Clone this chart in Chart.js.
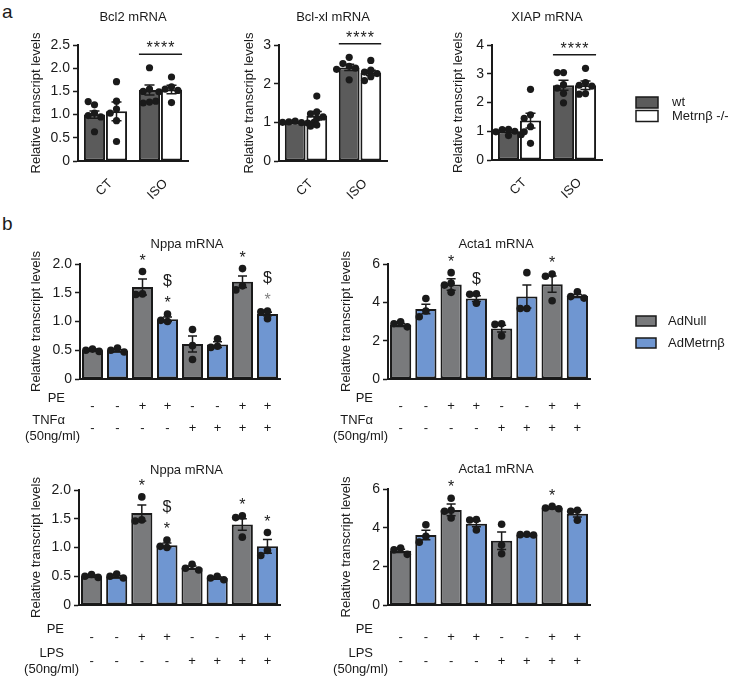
<!DOCTYPE html>
<html lang="en">
<head>
<meta charset="utf-8">
<title>Metrnβ transcript levels</title>
<script src="https://cdn.jsdelivr.net/npm/chart.js@4.4.1/dist/chart.umd.min.js"></script>
<style>
    html, body { margin: 0; padding: 0; background: #fff; }
    body { position: relative; width: 730px; height: 677px; overflow: hidden; font-family: 'Liberation Sans', Arial, sans-serif; color: #1a1a1a; }
    .panel-tag { position: absolute; font-size: 19px; line-height: 19px; }
    .frame { position: absolute; }
    .frame canvas { display: block; }
</style>
</head>
<body>
<div class="panel-tag" style="left:2px; top:2px">a</div>
<div class="panel-tag" style="left:2px; top:214px">b</div>
<script>
// --- Panel a: wt vs Metrnβ -/-, CT vs ISO ---
const groupsA = ['CT', 'ISO'];
const seriesA = ['wt', 'Metrnβ -/-'];

const bcl2Ticks = ['0', '0.5', '1.0', '1.5', '2.0', '2.5'];
const bcl2WtMean = [1.00, 1.53];
const bcl2KoMean = [1.07, 1.54];
const bcl2WtSem = [0.08, 0.11];
const bcl2KoSem = [0.20, 0.09];
const bcl2WtDots = [[1.21, 1.28, 1.03, 0.98, 0.95, 0.63], [2.01, 1.55, 1.50, 1.27, 1.25, 1.29]];
const bcl2KoDots = [[1.71, 1.29, 1.12, 1.03, 0.87, 0.42], [1.81, 1.60, 1.55, 1.52, 1.49, 1.26]];

const bclxlTicks = ['0', '1', '2', '3'];
const bclxlWtMean = [1.00, 2.42];
const bclxlKoMean = [1.17, 2.28];
const bclxlWtSem = [0.01, 0.08];
const bclxlKoSem = [0.11, 0.07];
const bclxlWtDots = [[1.03, 1.01, 0.99, 1.00, 0.98, 1.00], [2.68, 2.52, 2.45, 2.40, 2.37, 2.10]];
const bclxlKoDots = [[1.68, 1.27, 1.22, 1.14, 1.10, 0.93, 0.90], [2.60, 2.35, 2.30, 2.26, 2.18, 2.08]];

const xiapTicks = ['0', '1', '2', '3', '4'];
const xiapWtMean = [1.00, 2.60];
const xiapKoMean = [1.37, 2.60];
const xiapWtSem = [0.04, 0.17];
const xiapKoSem = [0.26, 0.15];
const xiapWtDots = [[1.07, 1.06, 1.00, 0.98, 0.88, 0.85], [3.04, 3.04, 2.62, 2.50, 2.32, 1.99]];
const xiapKoDots = [[2.46, 1.57, 1.45, 1.16, 0.98, 0.58], [3.19, 2.69, 2.60, 2.57, 2.31, 2.29]];

// --- Panel b: cardiomyocytes, AdNull vs AdMetrnβ ---
const virusB = ['AdNull', 'AdMetrnβ'];
const virusRow = [0, 1, 0, 1, 0, 1, 0, 1];
const peRow = ['-', '-', '+', '+', '-', '-', '+', '+'];
const tnfRow = ['-', '-', '-', '-', '+', '+', '+', '+'];
const lpsRow = ['-', '-', '-', '-', '+', '+', '+', '+'];
const nppaTicks = ['0', '0.5', '1.0', '1.5', '2.0'];
const actaTicks = ['0', '2', '4', '6'];

const nppaTnfMean = [0.50, 0.49, 1.60, 1.04, 0.61, 0.60, 1.69, 1.13];
const nppaTnfSem = [0.02, 0.02, 0.14, 0.04, 0.14, 0.05, 0.10, 0.03];
const nppaTnfDots = [[0.52, 0.50, 0.48], [0.54, 0.50, 0.47], [1.87, 1.48, 1.47], [1.13, 1.02, 1.00],
    [0.86, 0.58, 0.34], [0.70, 0.57, 0.55], [1.92, 1.62, 1.55], [1.18, 1.17, 1.05]];
const nppaTnfMarks = [[], [], ['*'], ['$', '*'], [], [], ['*'], ['$', '*']];

const actaTnfMean = [2.82, 3.65, 4.93, 4.20, 2.63, 4.30, 4.95, 4.33];
const actaTnfSem = [0.08, 0.25, 0.30, 0.15, 0.18, 0.60, 0.42, 0.08];
const actaTnfDots = [[2.98, 2.88, 2.72], [4.20, 3.55, 3.25], [5.55, 5.00, 4.90, 4.52], [4.45, 4.42, 3.95],
    [2.88, 2.85, 2.25], [5.55, 3.68, 3.68], [5.48, 5.36, 4.08], [4.55, 4.30, 4.22]];
const actaTnfMarks = [[], [], ['*'], ['$'], [], [], ['*'], []];

const nppaLpsMean = [0.50, 0.49, 1.60, 1.04, 0.65, 0.47, 1.40, 1.02];
const nppaLpsSem = [0.02, 0.02, 0.14, 0.04, 0.03, 0.02, 0.10, 0.12];
const nppaLpsDots = [[0.53, 0.50, 0.48], [0.54, 0.50, 0.47], [1.88, 1.48, 1.46], [1.13, 1.02, 1.00],
    [0.71, 0.64, 0.61], [0.50, 0.47, 0.44], [1.55, 1.52, 1.18], [1.26, 0.95, 0.86]];
const nppaLpsMarks = [[], [], ['*'], ['$', '*'], [], [], ['*'], ['*']];

const actaLpsMean = [2.80, 3.62, 4.92, 4.20, 3.32, 3.64, 5.03, 4.72];
const actaLpsSem = [0.08, 0.25, 0.30, 0.15, 0.45, 0.03, 0.05, 0.17];
const actaLpsDots = [[2.95, 2.85, 2.62], [4.15, 3.55, 3.25], [5.52, 4.90, 4.85, 4.50], [4.42, 4.40, 3.88],
    [4.18, 3.10, 2.65], [3.66, 3.64, 3.62], [5.10, 5.02, 4.98], [4.90, 4.85, 4.38]];
const actaLpsMarks = [[], [], ['*'], [], [], [], ['*'], []];

// --- Look ---
const INK = '#1a1a1a';
const GREY_MARK = '#808080';
const FONT = "'Liberation Sans', Arial, sans-serif";
const WT_FILL = '#5b5b5b';
const KO_FILL = '#ffffff';
const FILL_B = ['#797a7c', '#6f96d1'];

Chart.defaults.font.family = FONT;
Chart.defaults.font.size = 13;
Chart.defaults.color = INK;

// Prism-like column scatter: put a dot in the middle unless it hits one already placed
function spreadDots(ys, r) {
    const placed = [];
    const step = r * 1.75;
    return ys.map(y => {
        for (const t of [0, -1, 1, -2, 2, -3, 3]) {
            const x = t * step;
            if (placed.every(p => Math.hypot(p.x - x, p.y - y) >= step)) {
                placed.push({ x, y });
                return x;
            }
        }
        placed.push({ x: 0, y });
        return 0;
    });
}

// text centred on its ink box (asterisks sit high in the em box)
function markText(ctx, text, x, cy, size, color) {
    ctx.font = `${size}px ${FONT}`;
    ctx.fillStyle = color;
    ctx.textAlign = 'center';
    ctx.textBaseline = 'alphabetic';
    const m = ctx.measureText(text);
    ctx.fillText(text, x, cy + (m.actualBoundingBoxAscent - m.actualBoundingBoxDescent) / 2);
}

function prismExtras(cfg) {
    return {
        id: 'prismExtras',
        afterDatasetsDraw(chart) {
            const { ctx, chartArea } = chart;
            const yScale = chart.scales.y;
            const groupTop = [];
            const groupSpan = [];
            ctx.save();

            chart.data.datasets.forEach((ds, di) => {
                const meta = chart.getDatasetMeta(di);
                meta.data.forEach((bar, i) => {
                    const mean = ds.data[i];
                    if (mean === null || mean === undefined) return;
                    const x = bar.x;
                    const hi = yScale.getPixelForValue(mean + ds.sem[i]);
                    const lo = yScale.getPixelForValue(mean - ds.sem[i]);

                    // error bar, mean ± SEM
                    ctx.strokeStyle = INK;
                    ctx.lineWidth = 1.5;
                    ctx.beginPath();
                    ctx.moveTo(x, lo); ctx.lineTo(x, hi);
                    ctx.moveTo(x - cfg.cap / 2, hi); ctx.lineTo(x + cfg.cap / 2, hi);
                    ctx.moveTo(x - cfg.cap / 2, lo); ctx.lineTo(x + cfg.cap / 2, lo);
                    ctx.stroke();

                    // one dot per sample
                    const ys = ds.dots[i].map(v => yScale.getPixelForValue(v));
                    const dx = spreadDots(ys, cfg.dotR);
                    ctx.fillStyle = INK;
                    ys.forEach((py, k) => {
                        ctx.beginPath();
                        ctx.arc(x + dx[k], py, cfg.dotR, 0, Math.PI * 2);
                        ctx.fill();
                    });

                    const top = Math.min(hi, ...ys) - cfg.dotR;
                    if (ds.marks && ds.marks[i]) {
                        ds.marks[i].slice().reverse().forEach((t, k) => {
                            const color = (cfg.greyMark === i && t === '*') ? GREY_MARK : INK;
                            markText(ctx, t, x, top - 11 - k * 18, 16, color);
                        });
                    }

                    groupTop[i] = Math.min(groupTop[i] === undefined ? Infinity : groupTop[i], top);
                    const span = groupSpan[i] || [Infinity, -Infinity];
                    span[0] = Math.min(span[0], x - bar.width / 2);
                    span[1] = Math.max(span[1], x + bar.width / 2);
                    groupSpan[i] = span;
                });
            });

            // significance bar over a group
            if (cfg.sig) {
                const [l, r] = groupSpan[cfg.sig.group];
                const ly = groupTop[cfg.sig.group] - 10;
                ctx.strokeStyle = INK;
                ctx.lineWidth = 1.5;
                ctx.beginPath();
                ctx.moveTo(l, ly); ctx.lineTo(r, ly);
                ctx.stroke();
                ctx.letterSpacing = '1px';
                markText(ctx, cfg.sig.text, (l + r) / 2 + 0.5, ly - 10, 16, INK);
                ctx.letterSpacing = '0px';
            }

            // chart title
            ctx.font = `13px ${FONT}`;
            ctx.fillStyle = INK;
            ctx.textAlign = 'center';
            ctx.textBaseline = 'middle';
            ctx.fillText(cfg.title, (chartArea.left + chartArea.right) / 2 + (cfg.titleDx || 0), chartArea.top - cfg.titleGap);

            // treatment row names left of the +/- rows
            if (cfg.rows) {
                const xs = chart.scales.x;
                ctx.textAlign = 'right';
                cfg.rows.forEach((row, k) => {
                    const y = xs.top + cfg.rowPad + cfg.rowLine * (k + 0.5);
                    ctx.fillText(row[0], chartArea.left - 15, y);
                    if (row[1]) ctx.fillText(row[1], chartArea.left, y + 16);
                });
            }

            // legend
            if (cfg.legend) {
                const lg = cfg.legend;
                chart.data.datasets.forEach((ds, k) => {
                    const y = lg.y + k * lg.row;
                    ctx.fillStyle = ds.backgroundColor;
                    ctx.fillRect(lg.x, y, lg.w, lg.h);
                    ctx.strokeStyle = INK;
                    ctx.lineWidth = 1.5;
                    ctx.strokeRect(lg.x, y, lg.w, lg.h);
                    ctx.fillStyle = INK;
                    ctx.textAlign = 'left';
                    ctx.textBaseline = 'middle';
                    ctx.fillText(ds.label, lg.textX, y + lg.h / 2);
                });
            }
            ctx.restore();
        }
    };
}

// --- Layout helpers (page coordinates) ---
function addFrame(frame) {
    const box = document.createElement('div');
    box.className = 'frame';
    box.style.left = frame.left + 'px';
    box.style.top = frame.top + 'px';
    box.style.width = frame.width + 'px';
    box.style.height = frame.height + 'px';
    const canvas = document.createElement('canvas');
    box.appendChild(canvas);
    document.body.appendChild(box);
    return canvas;
}

function layoutPadding(frame, area) {
    return { left: 0, top: area.T - frame.top, right: frame.left + frame.width - area.R, bottom: 0 };
}

function axisX(frame, area, ticks) {
    return {
        grid: { display: false },
        border: { display: true, color: INK, width: 2 },
        ticks: Object.assign({ color: INK, autoSkip: false }, ticks),
        afterFit: s => { s.height = frame.top + frame.height - area.B; }
    };
}

function axisY(frame, area, spec) {
    return {
        min: 0,
        max: spec.yMax,
        ticks: { stepSize: spec.yStep, autoSkip: false, padding: 3, color: INK, font: { size: 14 }, callback: (v, i) => spec.ticks[i] },
        grid: { drawOnChartArea: false, drawTicks: true, tickLength: 5, tickWidth: 1.5, tickColor: INK, color: INK },
        border: { display: true, color: INK, width: 2 },
        title: {
            display: true, text: 'Relative transcript levels', color: INK,
            padding: { top: spec.yTitleX - frame.left - 7.8, bottom: 0 }
        },
        afterFit: s => { s.width = area.L - frame.left; }
    };
}

const baseOptions = (frame, area) => ({
    responsive: true,
    maintainAspectRatio: false,
    animation: false,
    events: [],
    layout: { padding: layoutPadding(frame, area) },
    plugins: { legend: { display: false }, tooltip: { enabled: false } }
});

function panelA(frame, area, spec) {
    const canvas = addFrame(frame);
    const bars = { borderColor: INK, borderWidth: 2, borderSkipped: false, categoryPercentage: 0.8, barPercentage: 0.96 };
    const options = baseOptions(frame, area);
    options.scales = {
        x: axisX(frame, area, { minRotation: 45, maxRotation: 45, padding: 7, labelOffset: 5, font: { size: 13 } }),
        y: axisY(frame, area, spec)
    };
    return new Chart(canvas, {
        type: 'bar',
        data: {
            labels: groupsA,
            datasets: [
                Object.assign({ label: seriesA[0], data: spec.wtMean, sem: spec.wtSem, dots: spec.wtDots, backgroundColor: WT_FILL }, bars),
                Object.assign({ label: seriesA[1], data: spec.koMean, sem: spec.koSem, dots: spec.koDots, backgroundColor: KO_FILL }, bars)
            ]
        },
        options,
        plugins: [prismExtras({
            title: spec.title, titleGap: 28, cap: 10, dotR: 3.6,
            sig: { group: 1, text: '****' },
            legend: spec.legend ? Object.assign({}, spec.legend, { x: spec.legend.x - frame.left, y: spec.legend.y - frame.top, textX: spec.legend.textX - frame.left }) : null
        })]
    });
}

function panelB(frame, area, spec) {
    const canvas = addFrame(frame);
    const options = baseOptions(frame, area);
    options.scales = {
        x: axisX(frame, area, { minRotation: 0, maxRotation: 0, padding: spec.rowPad, font: { size: 13, lineHeight: spec.rowLine / 13 } }),
        y: axisY(frame, area, spec)
    };
    const pick = (arr, s) => arr.map((v, i) => (virusRow[i] === s ? v : null));
    return new Chart(canvas, {
        type: 'bar',
        data: {
            labels: peRow.map((p, i) => [p, spec.row2[i]]),
            datasets: virusB.map((name, s) => ({
                label: name,
                data: pick(spec.mean, s),
                sem: pick(spec.sem, s),
                dots: pick(spec.dots, s),
                marks: pick(spec.marks, s),
                backgroundColor: FILL_B[s],
                borderColor: INK,
                borderWidth: 2,
                borderSkipped: false,
                skipNull: true,
                categoryPercentage: 1,
                barPercentage: 0.84
            }))
        },
        options,
        plugins: [prismExtras({
            title: spec.title, titleGap: 20, titleDx: 7, cap: 9, dotR: 3.8,
            greyMark: spec.greyMark,
            rows: [['PE'], [spec.row2Name, '(50ng/ml)']],
            rowPad: spec.rowPad, rowLine: spec.rowLine,
            legend: spec.legend ? Object.assign({}, spec.legend, { x: spec.legend.x - frame.left, y: spec.legend.y - frame.top, textX: spec.legend.textX - frame.left }) : null
        })]
    });
}

// --- Panel a ---
panelA({ left: 0, top: 0, width: 210, height: 210 }, { L: 78, T: 45, R: 188, B: 161 }, {
    title: 'Bcl2 mRNA', yMax: 2.5, yStep: 0.5, ticks: bcl2Ticks, yTitleX: 36,
    wtMean: bcl2WtMean, koMean: bcl2KoMean, wtSem: bcl2WtSem, koSem: bcl2KoSem, wtDots: bcl2WtDots, koDots: bcl2KoDots
});
panelA({ left: 210, top: 0, width: 205, height: 210 }, { L: 279, T: 45, R: 387, B: 161 }, {
    title: 'Bcl-xl mRNA', yMax: 3, yStep: 1, ticks: bclxlTicks, yTitleX: 249,
    wtMean: bclxlWtMean, koMean: bclxlKoMean, wtSem: bclxlWtSem, koSem: bclxlKoSem, wtDots: bclxlWtDots, koDots: bclxlKoDots
});
panelA({ left: 415, top: 0, width: 315, height: 210 }, { L: 492, T: 45, R: 602, B: 160 }, {
    title: 'XIAP mRNA', yMax: 4, yStep: 1, ticks: xiapTicks, yTitleX: 458,
    wtMean: xiapWtMean, koMean: xiapKoMean, wtSem: xiapWtSem, koSem: xiapKoSem, wtDots: xiapWtDots, koDots: xiapKoDots,
    legend: { x: 636, y: 97, w: 22, h: 11, row: 13.5, textX: 672 }
});

// --- Panel b ---
panelB({ left: 0, top: 222, width: 300, height: 225 }, { L: 80, T: 264, R: 280, B: 379 }, {
    title: 'Nppa mRNA', yMax: 2, yStep: 0.5, ticks: nppaTicks, yTitleX: 36,
    mean: nppaTnfMean, sem: nppaTnfSem, dots: nppaTnfDots, marks: nppaTnfMarks, greyMark: 7,
    row2: tnfRow, row2Name: 'TNFα', rowPad: 8, rowLine: 22
});
panelB({ left: 300, top: 222, width: 430, height: 225 }, { L: 388, T: 264, R: 590, B: 379 }, {
    title: 'Acta1 mRNA', yMax: 6, yStep: 2, ticks: actaTicks, yTitleX: 346,
    mean: actaTnfMean, sem: actaTnfSem, dots: actaTnfDots, marks: actaTnfMarks,
    row2: tnfRow, row2Name: 'TNFα', rowPad: 8, rowLine: 22,
    legend: { x: 636, y: 316, w: 20, h: 10, row: 22, textX: 668 }
});
panelB({ left: 0, top: 450, width: 300, height: 227 }, { L: 79, T: 490, R: 280, B: 605 }, {
    title: 'Nppa mRNA', yMax: 2, yStep: 0.5, ticks: nppaTicks, yTitleX: 36,
    mean: nppaLpsMean, sem: nppaLpsSem, dots: nppaLpsDots, marks: nppaLpsMarks,
    row2: lpsRow, row2Name: 'LPS', rowPad: 12, rowLine: 24
});
panelB({ left: 300, top: 450, width: 430, height: 227 }, { L: 388, T: 489, R: 590, B: 605 }, {
    title: 'Acta1 mRNA', yMax: 6, yStep: 2, ticks: actaTicks, yTitleX: 346,
    mean: actaLpsMean, sem: actaLpsSem, dots: actaLpsDots, marks: actaLpsMarks,
    row2: lpsRow, row2Name: 'LPS', rowPad: 12, rowLine: 24
});
</script>
</body>
</html>
